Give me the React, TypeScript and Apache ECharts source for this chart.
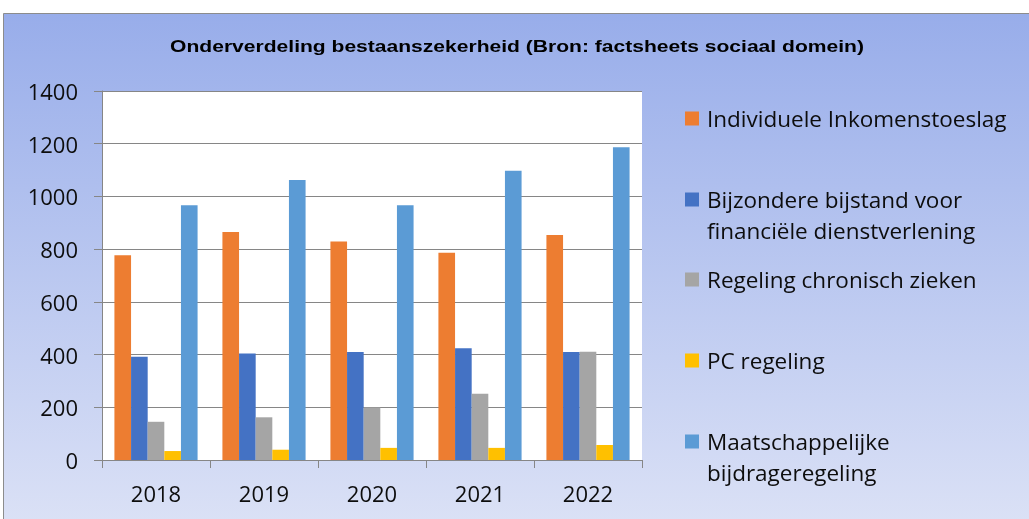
import React, { useEffect, useRef } from "react";
import * as echarts from "echarts";

const years = ["2018", "2019", "2020", "2021", "2022"];
const seriesNames = [
  "Individuele Inkomenstoeslag",
  "Bijzondere bijstand voor financiële dienstverlening",
  "Regeling chronisch zieken",
  "PC regeling",
  "Maatschappelijke bijdrageregeling",
];
const legendLines = [
  ["Individuele Inkomenstoeslag"],
  ["Bijzondere bijstand voor", "financiële dienstverlening"],
  ["Regeling chronisch zieken"],
  ["PC regeling"],
  ["Maatschappelijke", "bijdrageregeling"],
];
const titleText = "Onderverdeling bestaanszekerheid (Bron: factsheets sociaal domein)";
const individueleInkomenstoeslag = [777, 865, 829, 786, 854];
const bijzondereBijstand = [392, 404, 410, 424, 410];
const chronischZieken = [145, 162, 199, 251, 411];
const pcRegeling = [34, 39, 46, 46, 57];
const maatschappelijkeBijdrage = [967, 1062, 967, 1097, 1187];
const allValues = [
  individueleInkomenstoeslag,
  bijzondereBijstand,
  chronischZieken,
  pcRegeling,
  maatschappelijkeBijdrage,
];
const colors = ["#ED7D31", "#4472C4", "#A5A5A5", "#FFC000", "#5B9BD5"];
const legendCenters = [117, 198, 278, 359, 440];

export default function App() {
  const ref = useRef<HTMLDivElement>(null);
  useEffect(() => {
    if (!ref.current) return;
    const chart = echarts.init(ref.current, null, { renderer: "svg" });
    const font = "'Open Sans', Lato, sans-serif";
    const legendSize = 22.5;
    const graphics: any[] = [
      {
        type: "rect",
        z: -10,
        shape: { x: 3.5, y: 13.5, width: 1040, height: 520 },
        style: {
          fill: new echarts.graphic.LinearGradient(0, 0, 0, 1, [
            { offset: 0, color: "#98ADEA" },
            { offset: 1, color: "#DCE2F6" },
          ]),
          stroke: "#8C8C8C",
          lineWidth: 1,
        },
        silent: true,
      },
      {
        type: "text",
        x: 517,
        y: 46,
        scaleX: 1.24,
        style: {
          text: titleText,
          font: "bold 17px 'Liberation Sans', Arial, sans-serif",
          fill: "#000000",
          align: "center",
          verticalAlign: "middle",
        },
      },
    ];
    legendLines.forEach((lines, i) => {
      if (lines.length > 1) {
        graphics.push({
          type: "text",
          x: 707,
          y: legendCenters[i] + 32,
          style: {
            text: lines[1],
            font: `${legendSize}px ${font}`,
            fill: "#0D0D0D",
            align: "left",
            verticalAlign: "middle",
          },
        });
      }
    });
    chart.setOption({
      animation: false,
      graphic: graphics,
      legend: seriesNames.map((name, i) => ({
        data: [name],
        orient: "vertical",
        left: 685,
        top: legendCenters[i] - 10,
        padding: 0,
        itemWidth: 14,
        itemHeight: 14,
        itemGap: 0,
        icon: "rect",
        selectedMode: false,
        formatter: () => legendLines[i][0],
        textStyle: {
          fontFamily: font,
          fontSize: legendSize,
          lineHeight: 14,
          color: "#0D0D0D",
          padding: [0, 0, 0, 3],
        },
      })),
      grid: {
        left: 102,
        top: 91,
        width: 540,
        height: 369,
        show: true,
        backgroundColor: "#FFFFFF",
        borderWidth: 0,
      },
      xAxis: {
        type: "category",
        data: years,
        axisLine: { show: true, lineStyle: { color: "#868686", width: 1 } },
        axisTick: { show: true, length: 8, lineStyle: { color: "#868686" } },
        axisLabel: {
          fontFamily: font,
          fontSize: 22,
          color: "#0D0D0D",
          margin: 22,
        },
      },
      yAxis: {
        type: "value",
        min: 0,
        max: 1400,
        interval: 200,
        axisLine: { show: true, lineStyle: { color: "#868686", width: 1 } },
        axisTick: { show: true, length: 8, lineStyle: { color: "#868686" } },
        splitLine: { show: true, lineStyle: { color: "#868686", width: 1 } },
        axisLabel: {
          fontFamily: font,
          fontSize: 22,
          color: "#0D0D0D",
          margin: 24,
          formatter: (v: number) => String(v),
        },
      },
      series: seriesNames.map((name, i) => ({
        name,
        type: "bar",
        data: allValues[i],
        barGap: "0%",
        barCategoryGap: "23%",
        itemStyle: { color: colors[i] },
      })),
    });
    return () => chart.dispose();
  }, []);
  return (
    <div
      ref={ref}
      style={{ position: "fixed", left: 0, top: 0, width: 1029, height: 519 }}
    />
  );
}
